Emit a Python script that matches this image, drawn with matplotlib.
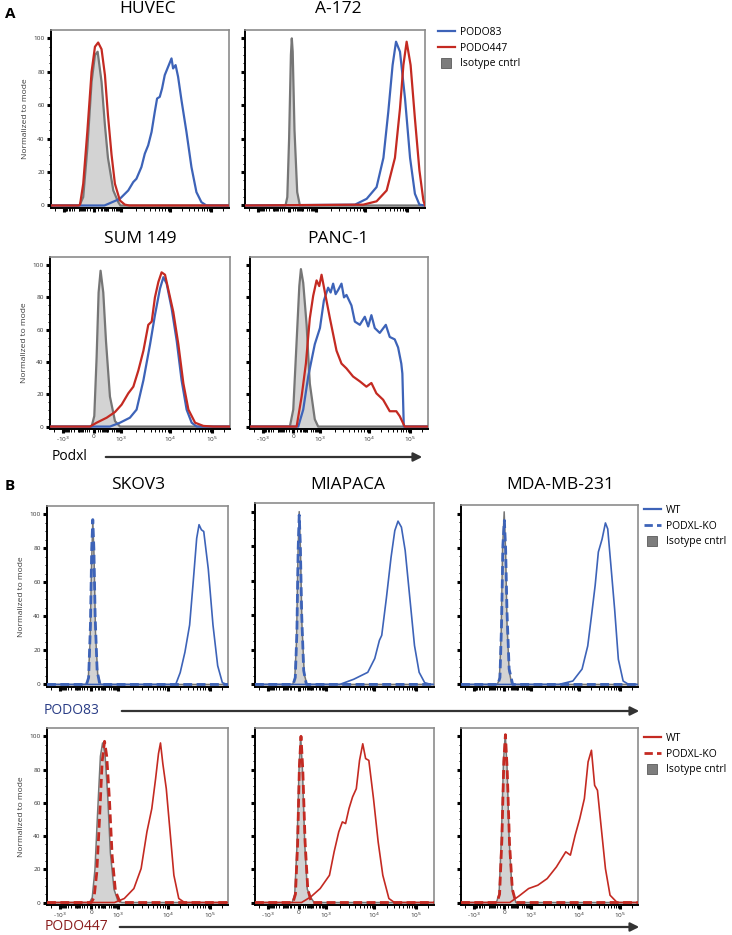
import numpy as np
import matplotlib
matplotlib.use('Agg')
import matplotlib.pyplot as plt
from matplotlib.lines import Line2D

plt.rcParams['font.family'] = ['Open Sans', 'DejaVu Sans']

BLUE = '#3d63b8'
RED = '#c42a22'
ISO_FACE = '#d3d3d3'
ISO_EDGE = '#767676'

# x values are in display units of the biexponential axis (0 = left edge, 1 = right edge)
TICK_VALS = ['-10$^{3}$', '0', '10$^{3}$', '10$^{4}$', '10$^{5}$']
TICK_POS = [0.074, 0.244, 0.394, 0.667, 0.898]

# ---- panel A ----
HUVEC_ISO_X = [0, 0.16, 0.181, 0.204, 0.228, 0.247, 0.262, 0.284, 0.303, 0.32, 0.35, 0.378, 0.39, 1]
HUVEC_ISO_Y = [0, 0, 5, 34, 74, 90, 92, 74, 48, 28.5, 9, 2, 0, 0]
HUVEC_P83_X = [0, 0.30, 0.331, 0.387, 0.434, 0.462, 0.48, 0.508, 0.527, 0.546, 0.565, 0.583, 0.596,
               0.611, 0.624, 0.639, 0.658, 0.677, 0.686, 0.70, 0.714, 0.733, 0.761, 0.789, 0.817,
               0.845, 0.873, 1]
HUVEC_P83_Y = [0, 0, 1.4, 4, 9, 14, 16, 23, 31, 36, 44, 56, 64, 65, 70, 78, 83, 88, 82, 84, 77, 63,
               44, 23, 8, 2, 0, 0]
HUVEC_P447_X = [0, 0.155, 0.163, 0.181, 0.204, 0.228, 0.247, 0.265, 0.284, 0.303, 0.32, 0.34, 0.359,
                0.387, 0.415, 0.44, 1]
HUVEC_P447_Y = [0, 0, 0.5, 13, 44, 80, 95, 97.5, 93.5, 78, 54, 30.5, 13, 3, 0.5, 0, 0]

A172_ISO_X = [0, 0.225, 0.235, 0.245, 0.255, 0.26, 0.265, 0.275, 0.29, 0.305, 1]
A172_ISO_Y = [0, 0, 5, 40, 90, 100, 92, 45, 8, 0, 0]
A172_P83_X = [0, 0.611, 0.676, 0.731, 0.769, 0.796, 0.82, 0.839, 0.861, 0.889, 0.917, 0.944, 0.969, 1]
A172_P83_Y = [0, 0.5, 4, 11, 28.5, 56, 84, 98, 92, 64, 28.5, 7, 0.5, 0]
A172_P447_X = [0, 0.657, 0.731, 0.787, 0.833, 0.861, 0.88, 0.898, 0.92, 0.944, 0.969, 0.991, 1]
A172_P447_Y = [0, 0.5, 2.5, 9, 28.5, 58, 84, 98, 84, 52, 21, 3, 0]

SUM_ISO_X = [0, 0.231, 0.246, 0.259, 0.27, 0.281, 0.296, 0.311, 0.333, 0.361, 0.389, 1]
SUM_ISO_Y = [0, 0, 6.5, 43, 83, 96.5, 83, 53, 18.6, 3.4, 0, 0]
SUM_P83_X = [0, 0.333, 0.389, 0.444, 0.481, 0.519, 0.556, 0.583, 0.611, 0.63, 0.648, 0.676, 0.704,
             0.731, 0.759, 0.787, 0.815, 1]
SUM_P83_Y = [0, 0, 2.4, 5.5, 10.5, 28.7, 51, 69, 85.4, 92.5, 88.5, 73, 53, 28.7, 10.5, 2.4, 0, 0]
SUM_P447_X = [0, 0.222, 0.259, 0.315, 0.361, 0.398, 0.435, 0.463, 0.491, 0.519, 0.546, 0.565, 0.583,
              0.602, 0.62, 0.639, 0.657, 0.685, 0.713, 0.741, 0.769, 0.806, 0.852, 0.907, 1]
SUM_P447_Y = [0, 0, 2.4, 5.5, 9, 13.6, 20.6, 24.7, 34.8, 47, 63, 65, 80, 89.5, 95.5, 94, 85, 71, 51,
              26.7, 10.5, 2.4, 0.4, 0, 0]

PANC_ISO_X = [0, 0.224, 0.243, 0.262, 0.277, 0.286, 0.299, 0.318, 0.336, 0.364, 0.383, 1]
PANC_ISO_Y = [0, 0, 10.5, 53, 87, 97.5, 89, 63, 26.7, 4.5, 0, 0]
PANC_P83_X = [0, 0.271, 0.299, 0.327, 0.364, 0.393, 0.415, 0.439, 0.453, 0.467, 0.481, 0.495, 0.514,
              0.528, 0.542, 0.57, 0.589, 0.617, 0.645, 0.664, 0.682, 0.701, 0.729, 0.763, 0.785,
              0.813, 0.832, 0.85, 0.856, 0.864, 1]
PANC_P83_Y = [0, 0, 10.5, 31, 51, 61, 78, 86, 83, 88.5, 82, 84.5, 88.5, 80, 81.5, 75, 65, 63, 68, 62,
              69, 61, 58, 63, 55.5, 54, 49, 39, 32.8, 0, 0]
PANC_P447_X = [0, 0.262, 0.29, 0.314, 0.336, 0.355, 0.374, 0.389, 0.402, 0.421, 0.449, 0.486, 0.514,
               0.542, 0.579, 0.617, 0.654, 0.682, 0.71, 0.748, 0.785, 0.822, 0.841, 0.869, 1]
PANC_P447_Y = [0, 0, 18.6, 39, 67, 81, 90.5, 87, 94, 83, 67, 47, 39, 36, 31, 28, 24.7, 27, 20.6,
               16.6, 9.5, 9.5, 6.5, 0, 0]

# ---- panel B, PODO83 row ----
SKOV3_83_ISO_X = [0, 0.215, 0.228, 0.238, 0.246, 0.253, 0.26, 0.268, 0.28, 0.297, 1]
SKOV3_83_ISO_Y = [0, 0, 3, 25, 70, 96, 75, 30, 6, 0, 0]
SKOV3_83_KO_X = [0, 0.218, 0.23, 0.24, 0.247, 0.253, 0.259, 0.266, 0.277, 0.292, 1]
SKOV3_83_KO_Y = [0, 0, 4, 35, 80, 97, 80, 40, 8, 0, 0]
SKOV3_83_WT_X = [0, 0.711, 0.736, 0.762, 0.788, 0.806, 0.827, 0.84, 0.853, 0.866, 0.891, 0.917, 0.943,
                 0.969, 0.995, 1]
SKOV3_83_WT_Y = [0, 0, 7, 19, 35, 58, 86, 94, 91, 90, 68, 35, 11, 1, 0, 0]

MIA_83_ISO_X = [0, 0.21, 0.222, 0.232, 0.24, 0.247, 0.254, 0.262, 0.275, 0.29, 1]
MIA_83_ISO_Y = [0, 0, 3, 25, 75, 100, 78, 35, 6, 0, 0]
MIA_83_KO_X = [0, 0.213, 0.225, 0.234, 0.241, 0.247, 0.253, 0.261, 0.272, 0.287, 1]
MIA_83_KO_Y = [0, 0, 4, 30, 78, 98, 82, 40, 8, 0, 0]
MIA_83_WT_X = [0, 0.474, 0.552, 0.63, 0.669, 0.695, 0.708, 0.734, 0.76, 0.781, 0.799, 0.818, 0.839,
               0.865, 0.891, 0.917, 0.948, 0.982, 1]
MIA_83_WT_Y = [0, 0, 3, 7, 15, 25.5, 28.4, 50, 73.5, 89, 94.5, 91, 77.5, 50, 22.5, 7, 1, 0, 0]

MDA_83_ISO_X = [0, 0.205, 0.217, 0.227, 0.235, 0.244, 0.252, 0.26, 0.272, 0.287, 1]
MDA_83_ISO_Y = [0, 0, 3, 30, 80, 101, 78, 35, 8, 0, 0]
MDA_83_KO_X = [0, 0.208, 0.22, 0.229, 0.237, 0.245, 0.252, 0.26, 0.272, 0.292, 1]
MDA_83_KO_Y = [0, 0, 4, 35, 82, 96, 80, 42, 9, 0, 0]
MDA_83_WT_X = [0, 0.553, 0.632, 0.684, 0.716, 0.737, 0.758, 0.776, 0.797, 0.816, 0.829, 0.847, 0.868,
               0.889, 0.916, 0.947, 1]
MDA_83_WT_Y = [0, 0, 2, 9, 22.5, 40, 58, 77.5, 85, 94.5, 91, 69.5, 44, 14.7, 2, 0, 0]

# ---- panel B, PODO447 row ----
SKOV3_447_ISO_X = [0, 0.235, 0.25, 0.265, 0.28, 0.295, 0.307, 0.32, 0.335, 0.35, 0.37, 0.39, 0.413, 1]
SKOV3_447_ISO_Y = [0, 0, 3, 20, 55, 88, 96, 90, 65, 30, 8, 1.5, 0, 0]
SKOV3_447_KO_X = [0, 0.245, 0.26, 0.275, 0.29, 0.305, 0.318, 0.33, 0.345, 0.36, 0.378, 0.40, 0.42, 1]
SKOV3_447_KO_Y = [0, 0, 3, 18, 50, 85, 97, 88, 62, 28, 7, 1, 0, 0]
SKOV3_447_WT_X = [0, 0.373, 0.427, 0.48, 0.52, 0.552, 0.579, 0.60, 0.616, 0.627, 0.64, 0.659, 0.68,
                  0.701, 0.728, 0.76, 1]
SKOV3_447_WT_Y = [0, 0, 2.4, 8.4, 20.4, 42.5, 56.5, 74.5, 89.6, 96, 83.5, 68.5, 42.5, 16.4, 2.4, 0, 0]

MIA_447_ISO_X = [0, 0.208, 0.222, 0.235, 0.246, 0.255, 0.265, 0.278, 0.292, 0.312, 0.33, 1]
MIA_447_ISO_Y = [0, 0, 5, 35, 80, 100, 80, 35, 8, 3, 0, 0]
MIA_447_KO_X = [0, 0.212, 0.226, 0.238, 0.248, 0.257, 0.267, 0.28, 0.295, 0.315, 1]
MIA_447_KO_Y = [0, 0, 5, 35, 82, 100, 80, 36, 8, 0, 0]
MIA_447_WT_X = [0, 0.26, 0.312, 0.364, 0.416, 0.442, 0.468, 0.488, 0.506, 0.525, 0.545, 0.566, 0.584,
                0.602, 0.618, 0.636, 0.662, 0.688, 0.714, 0.748, 0.779, 1]
MIA_447_WT_Y = [0, 0, 3.4, 8.4, 16.4, 30.5, 42.5, 48.5, 47.5, 56.5, 63.5, 68.5, 85.5, 95.5, 86.6,
                85.5, 62.5, 36.5, 16.4, 2.4, 0, 0]

MDA_447_ISO_X = [0, 0.2, 0.215, 0.228, 0.24, 0.25, 0.26, 0.272, 0.288, 0.31, 1]
MDA_447_ISO_Y = [0, 0, 5, 38, 85, 101, 82, 38, 8, 0, 0]
MDA_447_KO_X = [0, 0.203, 0.218, 0.231, 0.242, 0.251, 0.261, 0.274, 0.29, 0.31, 1]
MDA_447_KO_Y = [0, 0, 5, 38, 85, 101, 80, 36, 8, 0, 0]
MDA_447_WT_X = [0, 0.276, 0.329, 0.382, 0.434, 0.487, 0.539, 0.592, 0.618, 0.645, 0.671, 0.697,
                0.718, 0.737, 0.755, 0.771, 0.789, 0.816, 0.842, 0.882, 1]
MDA_447_WT_Y = [0, 0, 4, 8.4, 10.4, 14.4, 21.4, 30.5, 28.5, 40.5, 50.5, 62.5, 84.6, 91.6, 70.5, 67.5,
                48.5, 20.4, 4.4, 0, 0]

W, H = 732, 935


def add_axes(fig, x0, x1, y0, y1):
    return fig.add_axes([x0 / W, 1 - y1 / H, (x1 - x0) / W, (y1 - y0) / H])


def minor_ticks():
    lo, z, hi = TICK_POS[0], TICK_POS[1], TICK_POS[2]
    pos = []
    for v in list(range(10, 100, 10)) + list(range(100, 1000, 100)):
        f = np.log10(1 + v / 10) / np.log10(101)
        pos.append(z - f * (z - lo))
        pos.append(z + f * (hi - z))
    for a, b in [(TICK_POS[2], TICK_POS[3]), (TICK_POS[3], TICK_POS[4])]:
        for k in range(2, 10):
            pos.append(a + np.log10(k) * (b - a))
    pos.append(TICK_POS[4] + np.log10(2) * (TICK_POS[4] - TICK_POS[3]))
    pos.append(TICK_POS[0] - np.log10(2) * (TICK_POS[1] - TICK_POS[0]))
    return [p for p in pos if 0 < p < 1]


def setup(ax, ylab, xlab, spine_lw=1.4):
    ax.set_xlim(0, 1)
    ax.set_ylim(-1.5, 105)
    for s in ['left', 'bottom']:
        ax.spines[s].set_color('black')
        ax.spines[s].set_linewidth(spine_lw)
    for s in ['top', 'right']:
        ax.spines[s].set_color('#8c8c8c')
        ax.spines[s].set_linewidth(1.2)
    ax.set_yticks([0, 20, 40, 60, 80, 100])
    ax.set_yticks(np.arange(0, 101, 5), minor=True)
    ax.set_xticks(TICK_POS)
    ax.set_xticks(minor_ticks(), minor=True)
    ax.tick_params(which='major', length=3, width=2.2, color='black', direction='out', pad=1.5,
                   labelsize=4.6, labelcolor='#333333')
    ax.tick_params(which='minor', length=1.8, width=0.7, color='black', direction='out')
    if ylab:
        ax.set_yticklabels(['0', '20', '40', '60', '80', '100'])
        ax.set_ylabel('Normalized to mode', fontsize=6, color='#3a3a3a', labelpad=3)
    else:
        ax.set_yticklabels([])
    if xlab:
        ax.set_xticklabels(TICK_VALS)
        ax.tick_params(axis='x', pad=0.8)
    else:
        ax.set_xticklabels([])


def iso(ax, xs, ys, lw=1.4):
    ax.fill_between(xs, ys, -1.5, color=ISO_FACE, lw=0, zorder=1)
    ax.plot(xs, ys, color=ISO_EDGE, lw=lw, zorder=2)


fig = plt.figure(figsize=(W / 100, H / 100), dpi=100)

# panel A
a_boxes = [(51, 229, 30, 208), (245, 425, 30, 208), (50, 230, 257, 429), (250, 428, 257, 429)]
a_titles = [('HUVEC', 148, 9), ('A-172', 338, 9), ('SUM 149', 140, 239), ('PANC-1', 338, 239)]
a_data = [
    (HUVEC_ISO_X, HUVEC_ISO_Y, HUVEC_P83_X, HUVEC_P83_Y, HUVEC_P447_X, HUVEC_P447_Y),
    (A172_ISO_X, A172_ISO_Y, A172_P83_X, A172_P83_Y, A172_P447_X, A172_P447_Y),
    (SUM_ISO_X, SUM_ISO_Y, SUM_P83_X, SUM_P83_Y, SUM_P447_X, SUM_P447_Y),
    (PANC_ISO_X, PANC_ISO_Y, PANC_P83_X, PANC_P83_Y, PANC_P447_X, PANC_P447_Y),
]
for i, (box, title, d) in enumerate(zip(a_boxes, a_titles, a_data)):
    ax = add_axes(fig, *box)
    iso(ax, d[0], d[1], lw=1.6)
    ax.plot(d[2], d[3], color=BLUE, lw=1.6, zorder=3)
    ax.plot(d[4], d[5], color=RED, lw=1.6, zorder=4)
    setup(ax, ylab=(i % 2 == 0), xlab=(i >= 2))
    fig.text(title[1] / W, 1 - title[2] / H, title[0], fontsize=12.5, ha='center', va='center')

# panel B
b_x = [(47, 228), (255, 434), (461, 638)]
b_top = [(506, 687), (503, 687), (505, 687)]
b_bot = [(728, 905), (728, 905), (728, 905)]
b_titles = [('SKOV3', 138), ('MIAPACA', 348), ('MDA-MB-231', 560)]
b83 = [
    (SKOV3_83_ISO_X, SKOV3_83_ISO_Y, SKOV3_83_WT_X, SKOV3_83_WT_Y, SKOV3_83_KO_X, SKOV3_83_KO_Y),
    (MIA_83_ISO_X, MIA_83_ISO_Y, MIA_83_WT_X, MIA_83_WT_Y, MIA_83_KO_X, MIA_83_KO_Y),
    (MDA_83_ISO_X, MDA_83_ISO_Y, MDA_83_WT_X, MDA_83_WT_Y, MDA_83_KO_X, MDA_83_KO_Y),
]
b447 = [
    (SKOV3_447_ISO_X, SKOV3_447_ISO_Y, SKOV3_447_WT_X, SKOV3_447_WT_Y, SKOV3_447_KO_X, SKOV3_447_KO_Y),
    (MIA_447_ISO_X, MIA_447_ISO_Y, MIA_447_WT_X, MIA_447_WT_Y, MIA_447_KO_X, MIA_447_KO_Y),
    (MDA_447_ISO_X, MDA_447_ISO_Y, MDA_447_WT_X, MDA_447_WT_Y, MDA_447_KO_X, MDA_447_KO_Y),
]
for row, (ys, data, col) in enumerate([(b_top, b83, BLUE), (b_bot, b447, RED)]):
    for i in range(3):
        ax = add_axes(fig, b_x[i][0], b_x[i][1], ys[i][0], ys[i][1])
        d = data[i]
        iso(ax, d[0], d[1], lw=1.1)
        ax.plot(d[2], d[3], color=col, lw=1.2, zorder=3)
        ax.plot(d[4], d[5], color=col, lw=2.0, dashes=(3.2, 1.6), zorder=4)
        setup(ax, ylab=(i == 0), xlab=(row == 1))
for name, cx in b_titles:
    fig.text(cx / W, 1 - 485 / H, name, fontsize=12.5, ha='center', va='center')

# panel letters
fig.text(5 / W, 1 - 14 / H, 'A', fontsize=11, fontweight='bold', va='center')
fig.text(5 / W, 1 - 486 / H, 'B', fontsize=11, fontweight='bold', va='center')

# legends
iso_handle = Line2D([], [], ls='none', marker='s', ms=7, mfc='#7d7d7d', mec='#5a5a5a', mew=0.6)
fig.legend([Line2D([], [], color=BLUE, lw=1.6), Line2D([], [], color=RED, lw=1.6), iso_handle],
           ['PODO83', 'PODO447', 'Isotype cntrl'], loc='upper left',
           bbox_to_anchor=(438 / W, 1 - 27 / H), frameon=False, fontsize=7.5,
           handlelength=1.6, handletextpad=0.5, labelspacing=0.45, borderpad=0, borderaxespad=0)
for col, top in [(BLUE, 505), (RED, 733)]:
    fig.legend([Line2D([], [], color=col, lw=1.6), Line2D([], [], color=col, lw=2.0, dashes=(3, 1.5)),
                iso_handle],
               ['WT', 'PODXL-KO', 'Isotype cntrl'], loc='upper left',
               bbox_to_anchor=(644 / W, 1 - top / H), frameon=False, fontsize=7.5,
               handlelength=1.6, handletextpad=0.5, labelspacing=0.45, borderpad=0, borderaxespad=0)

# axis arrows
arrows = [('Podxl', 70, 457, 103, 425, 'black'),
          ('PODO83', 72, 711, 119, 642, '#2a3d86'),
          ('PODO447', 76, 927, 117, 642, '#8a1c1c')]
for label, lx, y, x0, x1, c in arrows:
    fig.text(lx / W, 1 - y / H, label, fontsize=10, ha='center', va='center', color=c)
    fig.add_artist(matplotlib.patches.FancyArrowPatch(
        (x0 / W, 1 - y / H), (x1 / W, 1 - y / H), transform=fig.transFigure,
        arrowstyle='-|>', mutation_scale=13, lw=1.6, color='#333333'))

fig.savefig('out.png', dpi=100)
